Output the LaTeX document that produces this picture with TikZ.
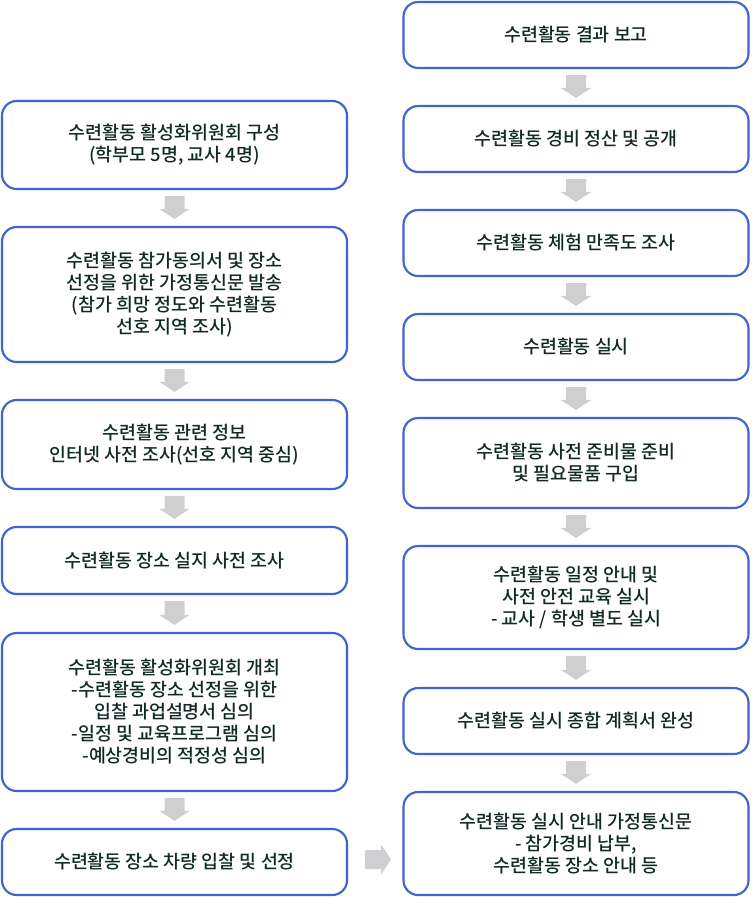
\documentclass[tikz,border=0pt]{standalone}
\usepackage{fontspec}
\IfFontExistsTF{Noto Sans CJK KR Medium}{\setmainfont{Noto Sans CJK KR Medium}}{\setmainfont{Noto Sans CJK KR}}
\usetikzlibrary{calc}
\definecolor{boxblue}{RGB}{64,100,206}
\definecolor{arrgray}{RGB}{207,207,209}
\definecolor{txtcol}{RGB}{18,42,38}
\newcommand\downarr[2]{\fill[arrgray] ($(#1.south)+(-10,6)$) -- ($(#1.south)+(10,6)$) -- ($(#2.north)+(10,-17)$) -- ($(#2.north)+(15,-17)$) -- ($(#2.north)+(0,-7)$) -- ($(#2.north)+(-15,-17)$) -- ($(#2.north)+(-10,-17)$) -- cycle;}
\begin{document}
\begin{tikzpicture}[x=0.75pt,y=-0.75pt,
  stepbox/.style={draw=boxblue,line width=1.6pt,rounded corners=11pt,fill=white,
    minimum width={345*0.75pt},inner sep=0pt,align=center,text=txtcol,
    font=\fontsize{13.8pt}{16.5pt}\selectfont},
  lbox/.style={stepbox},
  rbox/.style={stepbox}]
\useasboundingbox (0,0) rectangle (752,898);
% left column
\node[lbox,minimum height={88*0.75pt}] (L1) at (174.5,145) {수련활동 활성화위원회 구성\\(학부모 5명, 교사 4명)};
\node[lbox,minimum height={135*0.75pt}] (L2) at (174.5,294.5) {수련활동 참가동의서 및 장소\\선정을 위한 가정통신문 발송\\(참가 희망 정도와 수련활동\\선호 지역 조사)};
\node[lbox,minimum height={89*0.75pt}] (L3) at (174.5,444.5) {수련활동 관련 정보\\인터넷 사전 조사(선호 지역 중심)};
\node[lbox,minimum height={67*0.75pt}] (L4) at (174.5,560.5) {수련활동 장소 실지 사전 조사};
\node[lbox,minimum height={158*0.75pt}] (L5) at (174.5,712) {수련활동 활성화위원회 개최\\-수련활동 장소 선정을 위한\\입찰 과업설명서 심의\\-일정 및 교육프로그램 심의\\-예상경비의 적정성 심의};
\node[lbox,minimum height={66*0.75pt}] (L6) at (174.5,862) {수련활동 장소 차량 입찰 및 선정};
% right column
\node[rbox,minimum height={66*0.75pt}] (R1) at (576,35) {수련활동 결과 보고};
\node[rbox,minimum height={66*0.75pt}] (R2) at (576,139) {수련활동 경비 정산 및 공개};
\node[rbox,minimum height={66*0.75pt}] (R3) at (576,243) {수련활동 체험 만족도 조사};
\node[rbox,minimum height={66*0.75pt}] (R4) at (576,347) {수련활동 실시};
\node[rbox,minimum height={90*0.75pt}] (R5) at (576,463) {수련활동 사전 준비물 준비\\및 필요물품 구입};
\node[rbox,minimum height={103*0.75pt}] (R6) at (576,597.5) {수련활동 일정 안내 및\\사전 안전 교육 실시\\- 교사 / 학생 별도 실시};
\node[rbox,minimum height={66*0.75pt}] (R7) at (576,721) {수련활동 실시 종합 계획서 완성};
\node[rbox,minimum height={103*0.75pt}] (R8) at (576,843.5) {수련활동 실시 안내 가정통신문\\- 참가경비 납부,\\수련활동 장소 안내 등};
% arrows
\downarr{L1}{L2}
\downarr{L2}{L3}
\downarr{L3}{L4}
\downarr{L4}{L5}
\downarr{L5}{L6}
\downarr{R1}{R2}
\downarr{R2}{R3}
\downarr{R3}{R4}
\downarr{R4}{R5}
\downarr{R5}{R6}
\downarr{R6}{R7}
\downarr{R7}{R8}
\fill[arrgray] ($(L6.east)+(17,-12)$) -- ($(L6.east)+(33,-12)$) -- ($(L6.east)+(33,-17.5)$) -- ($(L6.east)+(43,-2.5)$) -- ($(L6.east)+(33,12.5)$) -- ($(L6.east)+(33,7)$) -- ($(L6.east)+(17,7)$) -- cycle;
\end{tikzpicture}
\end{document}
